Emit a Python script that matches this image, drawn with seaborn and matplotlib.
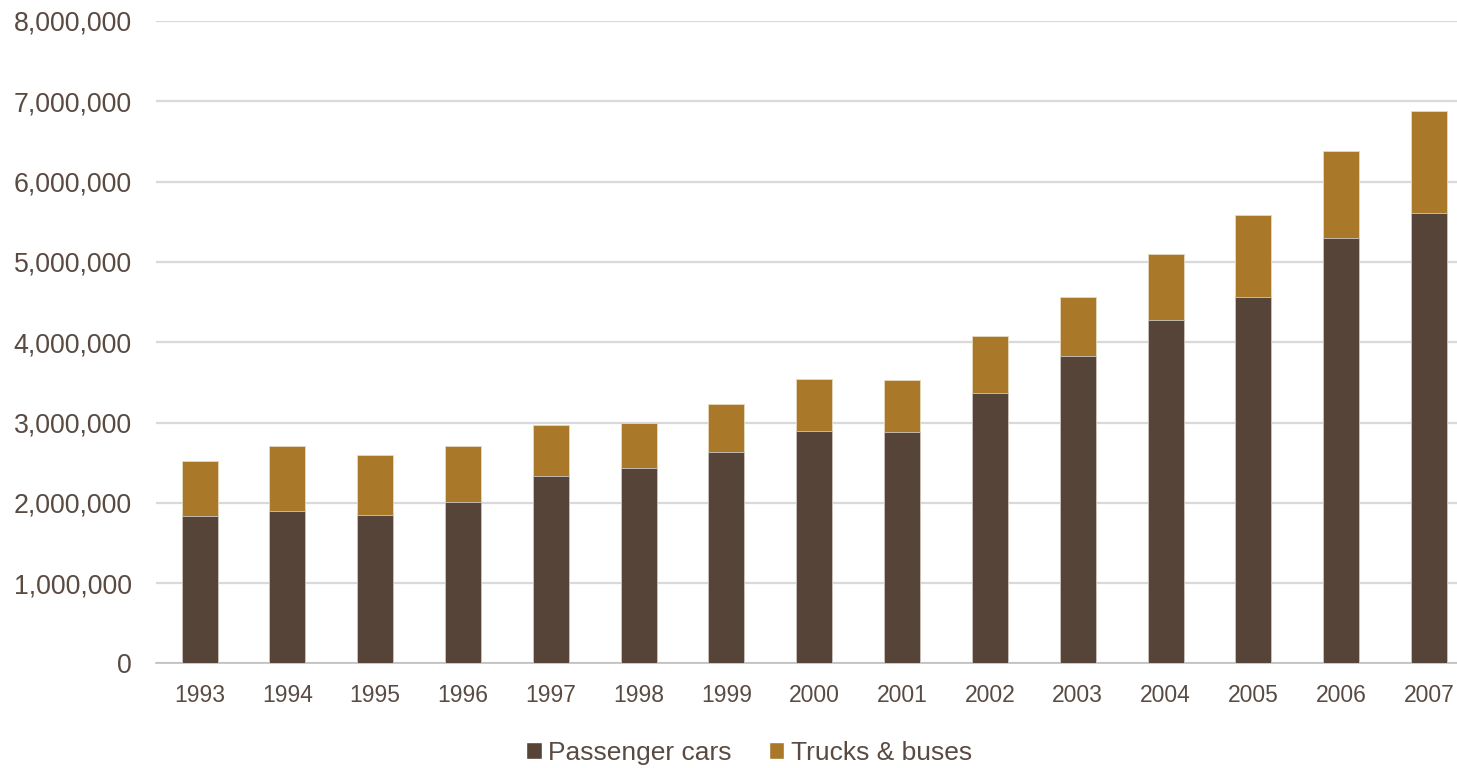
import matplotlib
matplotlib.use("Agg")
import matplotlib.pyplot as plt
from matplotlib.patches import Patch
from matplotlib.ticker import FuncFormatter, FixedLocator
import seaborn as sns
import pandas as pd

years = ["1993", "1994", "1995", "1996", "1997", "1998", "1999", "2000",
         "2001", "2002", "2003", "2004", "2005", "2006", "2007"]
passenger_cars = [1836000, 1898000, 1848000, 2010000, 2336000, 2434000, 2633000, 2894000,
                  2882000, 3367000, 3828000, 4276000, 4563000, 5298000, 5609000]
trucks_buses = [684000, 810000, 747000, 698000, 634000, 560000, 598000, 648000,
                648000, 710000, 735000, 822000, 1021000, 1077000, 1270000]

CAR_COLOR = "#574438"
TRUCK_COLOR = "#A97829"
TEXT_COLOR = "#594A42"
GRID_COLOR = "#D9D9D9"

sns.set_theme(style="white")
plt.rcParams["font.family"] = ["Liberation Sans", "DejaVu Sans"]

df = pd.DataFrame({"year": years, "cars": passenger_cars, "trucks": trucks_buses})
df["total"] = df["cars"] + df["trucks"]

fig = plt.figure(figsize=(14.57, 7.68), dpi=100)
ax = fig.add_axes([155.6 / 1457, 1 - 663.4 / 768, (1473 - 155.6) / 1457, (663.4 - 21) / 768])

# stacked bars: full height in the truck colour, passenger cars drawn over the base
sns.barplot(data=df, x="year", y="total", color=TRUCK_COLOR, width=0.41,
            saturation=1, edgecolor="#E8D9BF", linewidth=0.6, ax=ax, zorder=3)
sns.barplot(data=df, x="year", y="cars", color=CAR_COLOR, width=0.41,
            saturation=1, edgecolor="#CFC8C4", linewidth=0.6, ax=ax, zorder=4)

ax.set_xlim(-0.5, len(years) - 0.5)
ax.set_ylim(0, 8000000)
ax.set_yticks(range(0, 8000001, 1000000))
ax.yaxis.set_major_formatter(FuncFormatter(lambda v, p: f"{int(v):,}"))
ax.grid(axis="y", color=GRID_COLOR, linewidth=1.6, zorder=0)
ax.set_axisbelow(True)

for side in ["left", "right", "top"]:
    ax.spines[side].set_visible(False)
ax.spines["bottom"].set_color("#BFBFBF")
ax.spines["bottom"].set_linewidth(1.2)

ax.set_xlabel("")
ax.set_ylabel("")
ax.tick_params(axis="y", length=0, labelsize=19.3, labelcolor=TEXT_COLOR, pad=17)
ax.tick_params(axis="x", which="major", length=0, labelsize=16.5, labelcolor=TEXT_COLOR, pad=15)
ax.xaxis.set_minor_locator(FixedLocator([i - 0.5 for i in range(len(years) + 1)]))
ax.tick_params(axis="x", which="minor", length=7, width=1.2, color="#BFBFBF", direction="out")

handles = [Patch(facecolor=CAR_COLOR, label="Passenger cars"),
           Patch(facecolor=TRUCK_COLOR, label="Trucks & buses")]
fig.legend(handles=handles, loc="center", bbox_to_anchor=(749 / 1457, 1 - 753 / 768),
           ncol=2, frameon=False, fontsize=19, labelcolor=TEXT_COLOR,
           handlelength=0.6, handleheight=0.6, handletextpad=0.25, columnspacing=1.4)

fig.savefig("out.png", dpi=100)
